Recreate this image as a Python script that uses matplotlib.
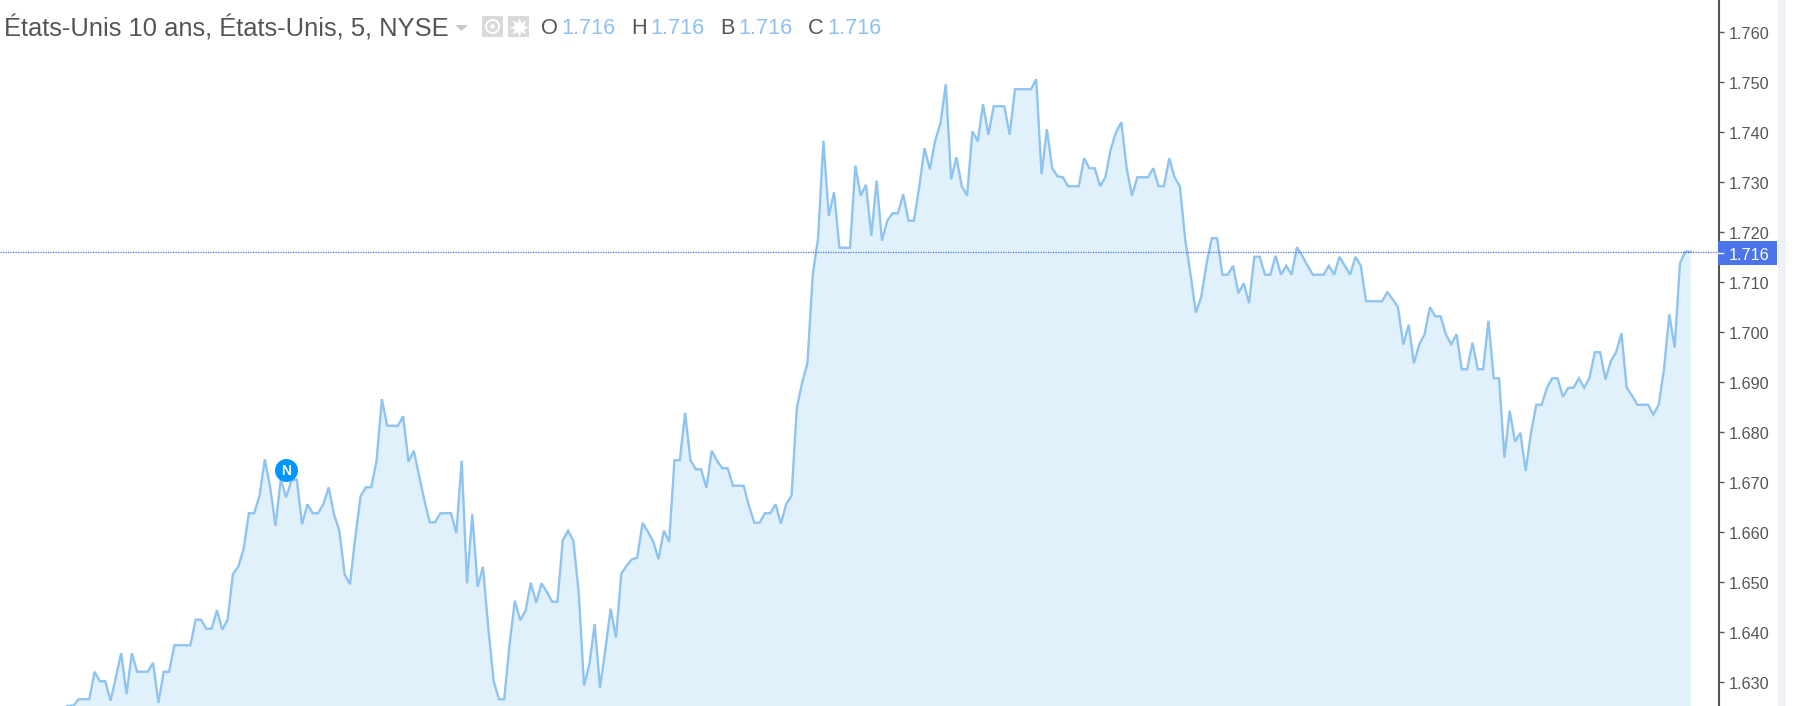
import matplotlib
matplotlib.use("Agg")
import matplotlib.pyplot as plt
from matplotlib.patches import Rectangle, Circle, Polygon
from matplotlib.transforms import ScaledTranslation
import numpy as np

plt.rcParams['font.family'] = ['Liberation Sans', 'DejaVu Sans']

title = "États-Unis 10 ans, États-Unis, 5, NYSE"
ohlc_names = ["O", "H", "B", "C"]
ohlc_values = ["1.716", "1.716", "1.716", "1.716"]
last_price = 1.716
y_ticks = [1.63, 1.64, 1.65, 1.66, 1.67, 1.68, 1.69, 1.70, 1.71, 1.72, 1.73, 1.74, 1.75, 1.76]
news_bar = 42
news_value = 1.6724

# closes, in three runs
closes_a = [1.6245, 1.6252, 1.6252, 1.6265, 1.6265, 1.6265, 1.6320, 1.6301, 1.6301, 1.6262, 1.6310,
            1.6357, 1.6275, 1.6357, 1.6320, 1.6320, 1.6320, 1.6338, 1.6258, 1.6320, 1.6320,
            1.6373, 1.6373, 1.6373, 1.6373, 1.6424, 1.6424, 1.6406, 1.6406, 1.6443, 1.6404,
            1.6424, 1.6515, 1.6530, 1.6565, 1.6637, 1.6637, 1.6672, 1.6745, 1.6689, 1.6612,
            1.6705, 1.6669, 1.6702, 1.6705, 1.6615, 1.6655, 1.6637, 1.6637, 1.6655, 1.6689,
            1.6635, 1.6602, 1.6515, 1.6495, 1.6589, 1.6671, 1.6689, 1.6689, 1.6742, 1.6865,
            1.6812, 1.6812, 1.6812, 1.6831, 1.6740, 1.6762, 1.6712, 1.6662, 1.6619, 1.6619,
            1.6637, 1.6637, 1.6637, 1.6597, 1.6742, 1.6497, 1.6635, 1.6490, 1.6530, 1.6408,
            1.6302, 1.6265, 1.6265, 1.6375, 1.6462, 1.6423, 1.6442, 1.6498, 1.6458, 1.6497,
            1.6480, 1.6460, 1.6460, 1.6583, 1.6602, 1.6582, 1.6478, 1.6292, 1.6335, 1.6415,
            1.6288]
closes_b = [1.6364, 1.6446, 1.6388, 1.6516, 1.6532, 1.6545, 1.6548, 1.6618, 1.6600, 1.6581,
            1.6545, 1.6602, 1.6580, 1.6743, 1.6743, 1.6838, 1.6743, 1.6725, 1.6725, 1.6688,
            1.6762, 1.6742, 1.6727, 1.6727, 1.6692, 1.6692, 1.6692, 1.6652, 1.6618, 1.6618,
            1.6637, 1.6637, 1.6655, 1.6616, 1.6655, 1.6672, 1.6848, 1.6898, 1.6938, 1.7115,
            1.7188, 1.7382, 1.7232, 1.7279, 1.7168, 1.7168, 1.7168, 1.7332, 1.7272, 1.7294,
            1.7192, 1.7302, 1.7182, 1.7222, 1.7237, 1.7237, 1.7275, 1.7222, 1.7222, 1.7289,
            1.7367, 1.7325, 1.7382, 1.7417, 1.7495, 1.7305, 1.7349, 1.7291, 1.7272, 1.7401,
            1.7381, 1.7455, 1.7394, 1.7451, 1.7451, 1.7451, 1.7394, 1.7485, 1.7485, 1.7485,
            1.7485, 1.7505, 1.7315, 1.7405, 1.7327, 1.7311, 1.7309, 1.7291, 1.7291, 1.7291,
            1.7347, 1.7327, 1.7327, 1.7291, 1.7309, 1.7365, 1.7399, 1.7419, 1.7327, 1.7272,
            1.7309, 1.7309, 1.7309, 1.7327, 1.7291, 1.7291, 1.7347, 1.7309, 1.7291, 1.7185,
            1.7115, 1.7038]
closes_c = [1.7069, 1.7135, 1.7187, 1.7187, 1.7114, 1.7114, 1.7132, 1.7077, 1.7097, 1.7057,
            1.7150, 1.7150, 1.7114, 1.7114, 1.7152, 1.7114, 1.7132, 1.7114, 1.7169, 1.7152,
            1.7132, 1.7114, 1.7114, 1.7114, 1.7132, 1.7114, 1.7150, 1.7132, 1.7114, 1.7150,
            1.7132, 1.7061, 1.7061, 1.7061, 1.7061, 1.7079, 1.7065, 1.7049, 1.6974, 1.7014,
            1.6937, 1.6975, 1.6995, 1.7049, 1.7031, 1.7031, 1.6995, 1.6975, 1.6995, 1.6925,
            1.6925, 1.6978, 1.6925, 1.6925, 1.7022, 1.6907, 1.6907, 1.6748, 1.6842, 1.6780,
            1.6798, 1.6722, 1.6798, 1.6854, 1.6854, 1.6888, 1.6907, 1.6907, 1.6870, 1.6888,
            1.6888, 1.6907, 1.6888, 1.6908, 1.6959, 1.6959, 1.6905, 1.6941, 1.6959, 1.6997,
            1.6888, 1.6872, 1.6854, 1.6854, 1.6854, 1.6834, 1.6854, 1.6925, 1.7035, 1.6968,
            1.7137, 1.7160, 1.7160]

closes = np.array(closes_a + closes_b + closes_c)
bars = np.arange(len(closes))

W, H = 1800, 706
LINE = "#8fc3f0"
FILL = "#e1f1fb"
GREY = "#555555"
TAG = "#4a74e8"
AXIS_X = 1719

fig = plt.figure(figsize=(W / 100, H / 100), dpi=100, facecolor="white")
ax = fig.add_axes([0, 0, AXIS_X / W, 1])

ax.fill_between(bars, closes, 1.6, color=FILL, linewidth=0)
ax.plot(bars, closes, color=LINE, linewidth=1.7, solid_joinstyle="miter")
ax.axhline(last_price, color=TAG, linewidth=0.9, linestyle=(0, (1, 1)))

ax.plot([news_bar], [news_value], marker="o", markersize=16.5, color="#0096ff", markeredgewidth=0)
ax.text(news_bar, news_value, "N", color="white", fontsize=10, fontweight="bold",
        ha="center", va="center_baseline")

# one bar is 5.32 px, bar 1 sits at x=68
ax.set_xlim(1 - 68 / 5.32, 1 + (AXIS_X - 68) / 5.32)
ax.set_ylim(1.62515, 1.76635)
ax.set_xticks([])

ax.yaxis.tick_right()
ax.set_yticks(y_ticks)
ax.set_yticklabels(["%.3f" % t for t in y_ticks])
ax.tick_params(axis="y", length=3.6, width=1, color=GREY, labelcolor=GREY, labelsize=11.7, pad=3.6)
for side in ["top", "left", "bottom"]:
    ax.spines[side].set_visible(False)
ax.spines["right"].set_color(GREY)
ax.spines["right"].set_linewidth(1.5)

# labels sit a little under their ticks
shift = ScaledTranslation(0, -3 / 100, fig.dpi_scale_trans)
for lab in ax.get_yticklabels():
    lab.set_verticalalignment("center")
    lab.set_transform(lab.get_transform() + shift)

# everything around the chart, in pixels
over = fig.add_axes([0, 0, 1, 1])
over.set_xlim(0, W)
over.set_ylim(H, 0)
over.axis("off")
over.patch.set_alpha(0)

# price tag
over.add_patch(Rectangle((AXIS_X - 1, 241), 59, 24, color=TAG, linewidth=0))
over.plot([AXIS_X - 1, AXIS_X + 4], [253, 253], color="white", linewidth=1)
over.text(1729, 255, "%.3f" % last_price, color="white", fontsize=11.7, va="center")

# scrollbar band on the right
over.add_patch(Rectangle((1778, 0), 8, H, color="#eff1f7", linewidth=0))

# legend line
over.text(4, 28, title, color=GREY, fontsize=18.35, va="center")
over.add_patch(Polygon([[455, 25], [468, 25], [461.5, 31]], color="#c8c8c8", linewidth=0))

over.add_patch(Rectangle((482, 16), 21, 21, color="#d9d9d9", linewidth=0))
over.add_patch(Circle((492.5, 26.5), 6.5, facecolor="none", edgecolor="white", linewidth=1.4))
over.add_patch(Circle((492.5, 26.5), 2.2, color="white", linewidth=0))
over.add_patch(Rectangle((508, 16), 21, 21, color="#d9d9d9", linewidth=0))
over.plot([518.5], [26.5], marker=(8, 1, 0), markersize=14, color="white", markeredgewidth=0)
over.add_patch(Circle((518.5, 26.5), 3.6, facecolor="white", edgecolor="white", linewidth=0))
over.add_patch(Circle((518.5, 26.5), 2.2, color="#d9d9d9", linewidth=0))

name_x = [541, 631, 720, 808]
value_x = [561, 650, 738, 827]
for nx, vx, name, value in zip(name_x, value_x, ohlc_names, ohlc_values):
    over.text(nx, 28, name, color=GREY, fontsize=15.7, va="center")
    over.text(vx, 28, value, color="#8fc0f0", fontsize=15.7, va="center")

fig.savefig("out.png", dpi=100)
